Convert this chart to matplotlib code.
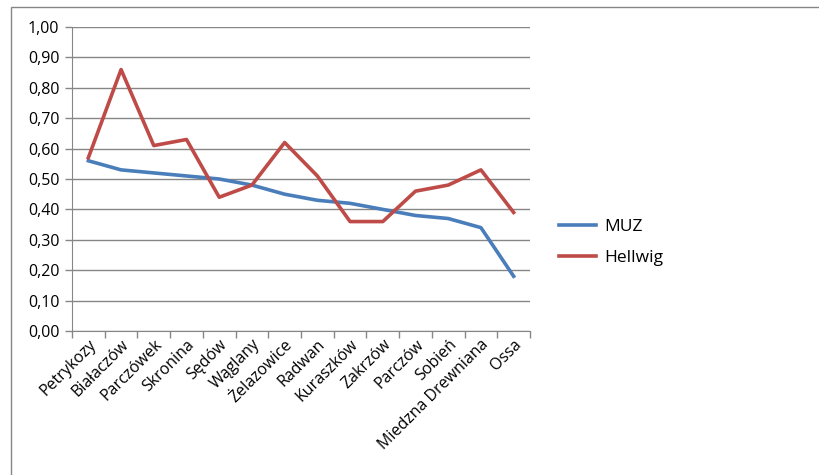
import matplotlib
matplotlib.use("Agg")
import matplotlib.pyplot as plt
from matplotlib.patches import Rectangle

# dane
miejscowosci = ["Petrykozy", "Białaczów", "Parczówek", "Skronina", "Sędów",
                "Wąglany", "Żelazowice", "Radwan", "Kuraszków", "Zakrzów",
                "Parczów", "Sobień", "Miedzna Drewniana", "Ossa"]
muz = [0.56, 0.53, 0.52, 0.51, 0.50, 0.48, 0.45, 0.43, 0.42, 0.40,
       0.38, 0.37, 0.34, 0.18]
hellwig = [0.57, 0.86, 0.61, 0.63, 0.44, 0.48, 0.62, 0.51, 0.36, 0.36,
           0.46, 0.48, 0.53, 0.39]
y_ticks = [i / 10 for i in range(11)]

plt.rcParams['font.family'] = ['Open Sans', 'DejaVu Sans']
szary = '#868686'

fig = plt.figure(figsize=(8.19, 4.75), dpi=100)
# ramka obszaru wykresu (jak w Excelu)
fig.patches.append(Rectangle((11 / 819, -0.1), 1.0, 1 - 7 / 475 + 0.1,
                             transform=fig.transFigure, fill=False,
                             edgecolor=szary, lw=1))

ax = fig.add_axes([72 / 819, 1 - 331 / 475, (530 - 72) / 819, (331 - 27) / 475])
x = list(range(len(miejscowosci)))
ax.plot(x, muz, color='#4A7EBB', lw=2.6, label='MUZ')
ax.plot(x, hellwig, color='#BE4B48', lw=2.6, label='Hellwig')

ax.set_xlim(-0.5, len(miejscowosci) - 0.5)
ax.set_ylim(0, 1)
ax.set_yticks(y_ticks)
ax.set_yticklabels([f"{v:.2f}".replace('.', ',') for v in y_ticks], fontsize=11.5)
ax.yaxis.grid(True, color=szary, lw=1)
ax.set_axisbelow(True)

ax.set_xticks([i - 0.5 for i in range(len(miejscowosci) + 1)])
ax.set_xticklabels([])
ax.set_xticks(x, minor=True)
ax.set_xticklabels(miejscowosci, minor=True, rotation=45, ha='right',
                   rotation_mode='anchor', fontsize=11.5)
ax.tick_params(axis='x', which='minor', length=0, pad=4)
ax.tick_params(axis='both', which='major', color=szary, length=5, width=1)
ax.tick_params(axis='y', pad=4)

for s in ['top', 'right']:
    ax.spines[s].set_visible(False)
for s in ['left', 'bottom']:
    ax.spines[s].set_color(szary)

ax.legend(loc='center left', bbox_to_anchor=(1.03, 0.29), frameon=False,
          fontsize=12.5, handlelength=2.1, handletextpad=0.5, labelspacing=0.85)

fig.savefig('out.png', dpi=100)
